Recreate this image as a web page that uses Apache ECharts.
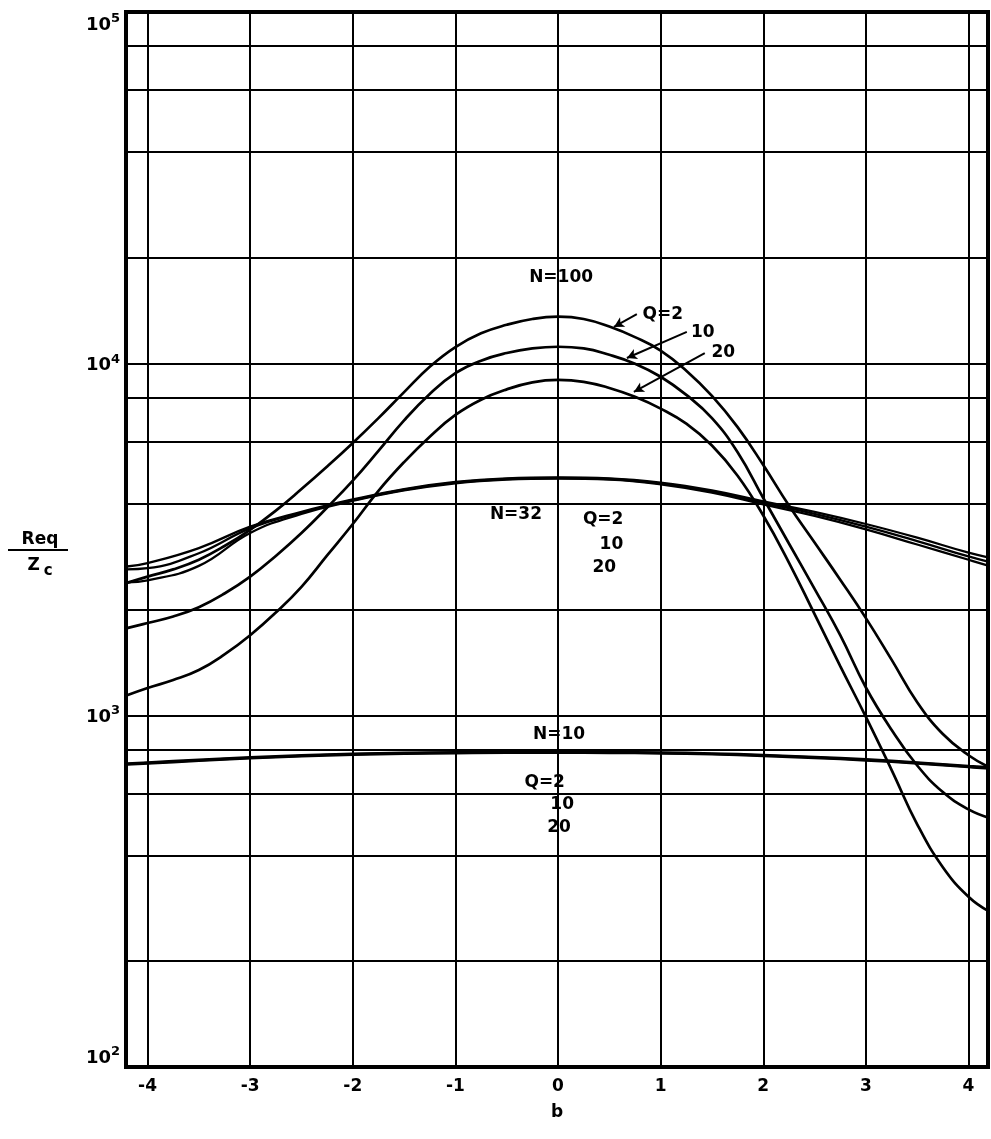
<!DOCTYPE html>
<html><head><meta charset="utf-8">
<script src="https://cdn.jsdelivr.net/npm/echarts@6/dist/echarts.min.js"></script>
<style>html,body{margin:0;padding:0;background:#fff}#c{width:991px;height:1139px}</style>
</head><body><div id="c"></div>
<script>
// ---------- data ----------
// N = 100 curves, sampled every 0.25 in b
const bFine = [-4.2,-4,-3.75,-3.5,-3.25,-3,-2.75,-2.5,-2.25,-2,-1.75,-1.5,-1.25,-1,-0.75,-0.5,-0.25,0,
               0.25,0.5,0.75,1,1.25,1.5,1.75,2,2.25,2.5,2.75,3,3.25,3.5,3.75,4,4.2];
const n100q2  = [2380,2480,2600,2770,3030,3370,3820,4400,5100,5950,7000,8300,9800,11150,12200,12900,13400,13600,
                 13400,12750,11900,10900,9550,8100,6600,5150,3950,3100,2430,1890,1440,1090,885,770,712];
const n100q10 = [1770,1830,1910,2030,2220,2480,2840,3300,3900,4650,5650,6900,8200,9400,10200,10720,11050,11170,
                 11050,10600,10000,9180,8150,7000,5600,4150,3080,2290,1690,1200,910,720,605,540,511];
const n100q20 = [1140,1196,1260,1345,1490,1690,1960,2320,2850,3500,4350,5250,6200,7150,7900,8450,8850,8990,
                 8880,8530,8050,7450,6750,5850,4800,3700,2720,1940,1380,990,700,490,370,305,277];
// N = 32 and N = 10 curves, sampled every 0.5 in b
const bCoarse = [-4.2,-4,-3.5,-3,-2.5,-2,-1.5,-1,-0.5,0,0.5,1,1.5,2,2.5,3,3.5,4,4.2];
const n32q2  = [2650,2710,2990,3440,3790,4110,4400,4610,4720,4750,4720,4590,4360,4060,3790,3500,3200,2900,2810];
const n32q10 = [2600,2620,2890,3400,3770,4090,4380,4590,4700,4730,4700,4560,4330,4020,3740,3440,3130,2830,2730];
const n32q20 = [2390,2420,2660,3300,3740,4070,4360,4570,4680,4710,4680,4540,4300,3980,3690,3380,3060,2770,2660];
const n10q2  = [730,735,748,760,770,778,783,786,788,788,787,785,780,772,762,750,735,718,712];
const n10q10 = [727,732,745,757,767,775,780,783,785,785,784,782,777,769,759,747,732,715,709];
const n10q20 = [724,729,742,754,764,772,777,780,782,782,781,779,774,766,756,744,729,712,706];

const xTicks = [-4,-3,-2,-1,0,1,2,3,4];
const yGridValues = [200,400,600,800,1000,2000,4000,6000,8000,10000,20000,40000,60000,80000];

// curve annotations (data coordinates)
const labelTexts = ['N=100','Q=2','10','20','N=32','Q=2','10','20','N=10','Q=2','10','20'];
const labelB     = [0.03, 1.02, 1.41, 1.61, -0.41, 0.44, 0.52, 0.45, 0.01, -0.13, 0.04, 0.01];
const labelV     = [17600, 13760, 12220, 10720, 3713, 3594, 3051, 2625, 880, 642, 556, 478];
// leader lines [b1, v1, b2, v2]
const leaders = [[0.768,13840,0.545,12720],[1.255,12310,0.671,10380],[1.43,10720,0.739,8310]];
// white masks behind labels [b1, v1, b2, v2]
const masks = [[-0.428,19340,0.496,15580],[0.788,16200,1.274,11450],[-0.837,4580,0.097,2748],[-0.574,983,0.593,808],[-0.613,762,0.506,440]];

// ---------- chart ----------
const FONT = 'DejaVu Sans';
function curve(name, xs, arr, w){
  return {name, type:'line', data:xs.map((b,i)=>[b, arr[i]]), smooth:0.45, showSymbol:false, symbol:'none', z:5,
          lineStyle:{color:'#000', width:w}, silent:true};
}
const gridLines = [];
xTicks.forEach(b => gridLines.push({xAxis:b}));
yGridValues.forEach(v => gridLines.push({yAxis:v}));

const option = {
  animation:false,
  backgroundColor:'#fff',
  grid:{left:126, right:1, top:12, bottom:72, show:true, borderColor:'#000', borderWidth:4},
  xAxis:{type:'value', min:-4.21, max:4.19, splitNumber:8,
    axisLine:{show:false}, axisTick:{show:false}, splitLine:{show:false},
    axisLabel:{margin:11, color:'#000', fontFamily:FONT, fontWeight:'bold', fontSize:17,
      formatter:v => (Math.abs(v-Math.round(v))<1e-6 && xTicks.includes(Math.round(v))) ? String(Math.round(v)) : ''},
    name:'b', nameLocation:'middle', nameGap:37,
    nameTextStyle:{color:'#000', fontFamily:FONT, fontWeight:'bold', fontSize:17}},
  yAxis:{type:'log', logBase:10, min:100, max:100000,
    axisLine:{show:false}, axisTick:{show:false}, splitLine:{show:false}, minorTick:{show:false},
    axisLabel:{margin:6, color:'#000', verticalAlignMaxLabel:'top', verticalAlignMinLabel:'bottom',
      formatter:v => '{b|10}{s|' + Math.round(Math.log10(v)) + '}',
      rich:{b:{fontFamily:FONT, fontWeight:'bold', fontSize:18, color:'#000', lineHeight:22, verticalAlign:'bottom'},
            s:{fontFamily:FONT, fontWeight:'bold', fontSize:13, color:'#000', verticalAlign:'top', lineHeight:22}}}},
  series:[
    {type:'line', data:[], z:1, silent:true,
     markLine:{silent:true, symbol:'none', label:{show:false}, animation:false,
       lineStyle:{color:'#000', width:2, type:'solid'}, data:gridLines}},
    curve('N=100 Q=2', bFine, n100q2, 2.7),
    curve('N=100 Q=10', bFine, n100q10, 2.7),
    curve('N=100 Q=20', bFine, n100q20, 2.7),
    curve('N=32 Q=2', bCoarse, n32q2, 2.3),
    curve('N=32 Q=10', bCoarse, n32q10, 2.3),
    curve('N=32 Q=20', bCoarse, n32q20, 2.3),
    curve('N=10 Q=2', bCoarse, n10q2, 2.3),
    curve('N=10 Q=10', bCoarse, n10q10, 2.3),
    curve('N=10 Q=20', bCoarse, n10q20, 2.3),
    {type:'line', data:[], z:6, silent:true,
     markLine:{silent:true, symbol:['none','arrow'], symbolSize:[8,10], label:{show:false}, animation:false,
       lineStyle:{color:'#000', width:2, type:'solid'},
       data:leaders.map(l => [{coord:[l[0],l[1]]},{coord:[l[2],l[3]]}])}}
  ]
};
const chart = echarts.init(document.getElementById('c'), null, {renderer:'canvas'});
chart.setOption(option);

const px = (b,v) => chart.convertToPixel({gridIndex:0}, [b,v]);
const graphics = [];
masks.forEach(m => {
  const p1 = px(m[0],m[1]), p2 = px(m[2],m[3]);
  graphics.push({type:'rect', z:3, silent:true,
    shape:{x:Math.min(p1[0],p2[0]), y:Math.min(p1[1],p2[1]), width:Math.abs(p2[0]-p1[0]), height:Math.abs(p2[1]-p1[1])},
    style:{fill:'#fff'}});
});
labelTexts.forEach((t,i) => {
  const p = px(labelB[i], labelV[i]);
  graphics.push({type:'text', z:7, silent:true, x:p[0], y:p[1],
    style:{text:t, fill:'#000', font:'bold 17px "DejaVu Sans"', align:'center', verticalAlign:'middle'}});
});
// y-axis title (fraction Req / Zc)
graphics.push({type:'text', z:7, silent:true, x:40, y:540,
  style:{text:'Req', fill:'#000', font:'bold 17px "DejaVu Sans"', align:'center', verticalAlign:'middle'}});
graphics.push({type:'line', z:7, silent:true, shape:{x1:8, y1:550, x2:68, y2:550}, style:{stroke:'#000', lineWidth:2}});
graphics.push({type:'text', z:7, silent:true, x:40, y:568,
  style:{text:'{z|Z}{c|c}', fill:'#000', align:'center', verticalAlign:'middle',
    rich:{z:{font:'bold 17px "DejaVu Sans"', fill:'#000', verticalAlign:'top', lineHeight:22, padding:[0,4,0,0]},
          c:{font:'bold 15px "DejaVu Sans"', fill:'#000', verticalAlign:'bottom', lineHeight:22}}}});
chart.setOption({graphic:graphics});
</script></body></html>
